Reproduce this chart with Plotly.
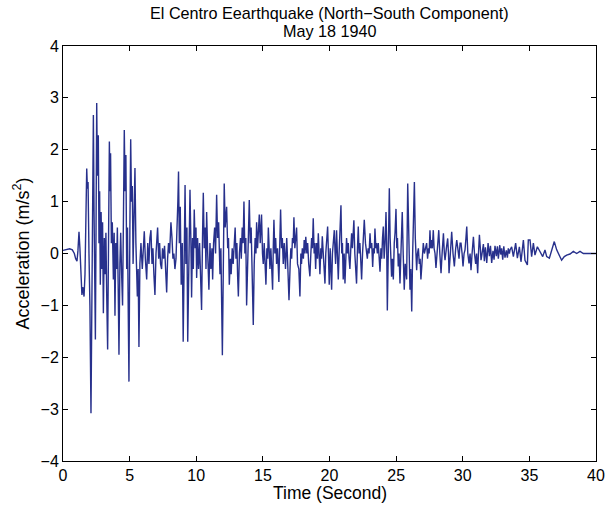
import plotly.graph_objects as go

# Hand-read samples of the El Centro N-S accelerogram (time in s, acceleration in m/s^2)
time_s = [
    0.0, 0.25, 0.5, 0.7, 0.85, 0.95, 1.05, 1.12, 1.2, 1.27, 1.35, 1.42, 1.5, 1.58, 1.65, 1.72, 1.78, 1.83, 1.88, 1.95,
    2.02, 2.1, 2.17, 2.22, 2.28, 2.33, 2.38, 2.43, 2.48, 2.53, 2.58, 2.65, 2.7, 2.75, 2.8, 2.86, 2.92, 2.97, 3.03, 3.1,
    3.17, 3.22, 3.28, 3.35, 3.42, 3.48, 3.53, 3.57, 3.63, 3.7, 3.78, 3.84, 3.9, 3.96, 4.02, 4.08, 4.14, 4.2, 4.27, 4.33,
    4.4, 4.47, 4.54, 4.6, 4.66, 4.72, 4.78, 4.84, 4.9, 4.95, 5.02, 5.08, 5.14, 5.2, 5.26, 5.33, 5.4, 5.47, 5.53, 5.58,
    5.64, 5.7, 5.77, 5.85, 5.95, 6.02, 6.1, 6.18, 6.28, 6.36, 6.45, 6.52, 6.6, 6.68, 6.75, 6.82, 6.9, 6.98, 7.05, 7.1,
    7.18, 7.25, 7.32, 7.4, 7.47, 7.55, 7.62, 7.7, 7.78, 7.85, 7.92, 8.0, 8.1, 8.18, 8.25, 8.32, 8.4, 8.48, 8.55, 8.62,
    8.67, 8.73, 8.8, 8.87, 8.95, 9.02, 9.1, 9.16, 9.22, 9.3, 9.36, 9.44, 9.53, 9.6, 9.65, 9.72, 9.78, 9.85, 9.92, 9.98,
    10.03, 10.1, 10.17, 10.25, 10.33, 10.4, 10.47, 10.53, 10.6, 10.67, 10.73, 10.78, 10.86, 10.95, 11.03, 11.1, 11.18, 11.23, 11.3, 11.38,
    11.45, 11.53, 11.6, 11.68, 11.78, 11.85, 11.96, 12.03, 12.1, 12.17, 12.28, 12.36, 12.42, 12.48, 12.56, 12.62, 12.7, 12.77, 12.85, 12.92,
    12.98, 13.05, 13.1, 13.16, 13.24, 13.32, 13.38, 13.45, 13.52, 13.58, 13.65, 13.72, 13.78, 13.85, 13.92, 13.98, 14.05, 14.12, 14.18, 14.28,
    14.35, 14.42, 14.48, 14.53, 14.6, 14.67, 14.73, 14.8, 14.85, 14.9, 14.97, 15.03, 15.1, 15.17, 15.23, 15.3, 15.36, 15.41, 15.47, 15.53,
    15.6, 15.66, 15.73, 15.78, 15.83, 15.9, 15.96, 16.03, 16.1, 16.2, 16.27, 16.33, 16.4, 16.46, 16.53, 16.6, 16.7, 16.79, 16.85, 16.96,
    17.05, 17.1, 17.16, 17.22, 17.28, 17.33, 17.4, 17.47, 17.53, 17.6, 17.7, 17.78, 17.85, 17.9, 17.96, 18.04, 18.1, 18.16, 18.22, 18.3,
    18.36, 18.44, 18.53, 18.6, 18.66, 18.72, 18.78, 18.85, 18.9, 18.96, 19.03, 19.1, 19.16, 19.22, 19.28, 19.35, 19.4, 19.46, 19.53, 19.6,
    19.66, 19.72, 19.78, 19.86, 19.92, 19.98, 20.05, 20.1, 20.16, 20.22, 20.3, 20.36, 20.42, 20.46, 20.53, 20.6, 20.66, 20.72, 20.8, 20.86,
    20.92, 20.97, 21.03, 21.1, 21.16, 21.22, 21.28, 21.35, 21.41, 21.47, 21.53, 21.6, 21.66, 21.72, 21.78, 21.83, 21.9, 21.96, 22.03, 22.1,
    22.16, 22.22, 22.28, 22.34, 22.41, 22.48, 22.55, 22.61, 22.7, 22.77, 22.84, 22.9, 22.97, 23.04, 23.1, 23.17, 23.24, 23.3, 23.36, 23.41,
    23.48, 23.53, 23.59, 23.66, 23.72, 23.79, 23.86, 23.92, 23.98, 24.04, 24.1, 24.17, 24.24, 24.29, 24.34, 24.41, 24.49, 24.55, 24.6, 24.66,
    24.72, 24.79, 24.86, 24.92, 24.99, 25.05, 25.1, 25.16, 25.22, 25.29, 25.36, 25.46, 25.53, 25.61, 25.68, 25.74, 25.79, 25.87, 25.94, 26.0,
    26.04, 26.1, 26.17, 26.24, 26.29, 26.37, 26.44, 26.5, 26.54, 26.6, 26.67, 26.74, 26.8, 26.86, 26.93, 27.0, 27.04, 27.12, 27.2, 27.29,
    27.36, 27.43, 27.48, 27.54, 27.6, 27.66, 27.72, 27.79, 27.85, 27.92, 27.99, 28.08, 28.2, 28.28, 28.37, 28.45, 28.55, 28.62, 28.67, 28.77,
    28.87, 28.93, 28.97, 29.07, 29.17, 29.27, 29.37, 29.47, 29.55, 29.63, 29.72, 29.8, 29.87, 29.95, 30.02, 30.1, 30.17, 30.24, 30.3, 30.38,
    30.47, 30.55, 30.62, 30.7, 30.8, 30.88, 30.97, 31.04, 31.12, 31.18, 31.25, 31.32, 31.37, 31.45, 31.55, 31.62, 31.7, 31.8, 31.9, 32.0,
    32.08, 32.17, 32.27, 32.35, 32.42, 32.52, 32.6, 32.67, 32.78, 32.85, 32.92, 33.0, 33.08, 33.17, 33.27, 33.35, 33.42, 33.5, 33.55, 33.67,
    33.8, 33.97, 34.1, 34.25, 34.37, 34.55, 34.67, 34.85, 34.92, 35.05, 35.17, 35.3, 35.42, 35.6, 35.8, 36.0, 36.17, 36.3, 36.5, 36.67,
    36.87, 37.05, 37.17, 37.3, 37.42, 37.62, 37.8, 38.05, 38.3, 38.55, 38.8, 39.05, 39.5, 40.0,
]

accel = [
    0.06, 0.08, 0.09, 0.07, 0.0, -0.1, -0.15, 0.05, 0.42, 0.1, -0.6, -0.8, -0.65, -0.83, -0.4, 1.3, 1.64, 1.25, 1.38, 0.0,
    -1.0, -3.08, -0.5, 1.0, 2.67, 0.8, -0.6, -1.66, 0.5, 2.9, 1.5, 2.28, 0.2, 1.2, -0.6, 0.8, -0.3, 0.6, -1.15, 0.3,
    -0.4, 0.4, -0.8, -1.85, 0.3, 2.16, 1.2, 1.93, 0.2, 0.6, -0.5, 0.4, -1.2, 0.2, -0.3, 0.5, -0.6, -1.95, -0.2, 0.4,
    -0.4, -1.0, 0.8, 2.38, 1.2, 1.9, -0.3, 0.5, -1.2, -2.47, 0.5, 2.2, 1.0, 1.3, -0.2, 0.58, 1.65, 0.2, -0.5, -0.83,
    -0.3, -1.8, -0.2, 0.2, -0.3, 0.1, 0.43, -0.1, -0.5, 0.2, -0.2, 0.3, 0.45, -0.2, 0.1, -0.4, -0.8, 0.0, 0.3, 0.5,
    -0.1, 0.2, -0.2, -0.3, 0.1, -0.1, 0.15, -0.4, -0.75, -0.1, 0.2, 0.0, 0.6, 0.3, -0.1, 0.0, -0.3, -0.1, 0.3, 1.0,
    1.58, 0.2, 0.9, -0.6, 0.2, -1.7, 0.0, 1.32, -0.2, 0.5, -1.7, 0.2, 1.23, 0.2, -0.85, 0.3, -0.3, 0.85, 0.1, 0.5,
    -0.47, 0.3, -0.3, 0.2, -0.5, -1.09, 0.3, 1.17, 0.1, 0.5, -0.3, 0.8, 0.0, -0.7, 0.2, -0.3, 0.1, -0.5, 0.2, 0.5,
    0.0, 1.13, 0.3, 0.6, -0.4, 0.1, -1.96, 0.0, 1.35, 0.5, 0.9, 0.1, 0.3, -0.6, -0.1, -0.4, 0.1, -0.2, 0.3, 0.5,
    -0.1, 0.2, -0.4, -0.83, 0.0, 0.3, -0.1, 0.5, 0.2, 1.0, 0.0, 0.3, -1.0, 0.0, 0.4, 1.03, 0.2, 0.5, -0.2, -1.38,
    -0.2, 0.3, 0.0, 0.6, 0.1, 0.4, 0.75, 0.2, 0.5, 0.75, 0.0, -0.2, 0.2, -0.3, -0.6, 0.1, -0.1, 0.5, 0.0, -0.3,
    0.1, -0.2, -0.7, 0.1, 0.65, 0.0, 0.3, -0.2, 0.1, -0.55, 0.2, 0.85, 0.1, 0.3, -0.2, 0.2, -0.3, 0.3, -0.1, -0.9,
    -0.2, 0.1, -0.1, 0.3, 0.2, 0.7, 0.1, 0.4, 0.5, -0.2, -0.3, -0.83, 0.0, -0.2, 0.1, -0.1, 0.26, 0.0, 0.32, 0.0,
    0.2, -0.2, -0.44, 0.0, 0.3, 0.1, 0.68, 0.0, 0.2, -0.3, 0.2, -0.1, 0.39, 0.0, -0.4, 0.1, -0.1, 0.33, 0.0, -0.3,
    -0.58, 0.0, 0.2, 0.52, 0.0, -0.6, 0.1, -0.3, -0.7, 0.0, 0.2, 0.45, 0.0, -0.2, 0.45, 0.0, -0.5, 0.0, 0.4, 0.93,
    0.0, 0.2, -0.5, 0.0, -0.58, 0.0, 0.3, 0.0, 0.2, -0.1, -0.3, 0.1, 0.39, 0.1, 0.3, 0.64, 0.0, -0.2, -0.58, 0.1,
    0.52, 0.0, 0.2, -0.1, -0.5, 0.0, 0.3, 0.65, 0.2, 0.0, -0.1, 0.1, 0.0, 0.39, 0.1, 0.2, -0.26, 0.1, 0.0, 0.48,
    0.1, 0.2, 0.0, 0.2, -0.1, -0.35, 0.1, -0.1, 0.3, 0.52, -0.1, 0.2, 0.8, 0.2, -1.1, 0.0, 1.26, 0.3, 0.0, -0.45,
    -0.1, -0.5, 0.2, 0.4, 0.86, 0.1, 0.3, -0.25, 0.0, -0.58, 0.0, 0.8, 0.0, -0.7, -0.2, -0.4, -0.5, 1.35, 0.2, -0.3,
    -0.7, -0.3, -1.12, 0.0, 0.52, 1.38, 0.3, -0.1, -0.32, 0.0, 0.1, -0.2, -0.1, -0.5, -0.2, 0.0, 0.2, 0.0, 0.1, 0.2,
    -0.1, 0.1, 0.0, 0.45, 0.1, 0.26, 0.1, 0.45, 0.1, 0.0, -0.28, 0.1, 0.45, 0.0, -0.38, 0.0, 0.39, 0.0, -0.13, 0.1,
    0.29, 0.0, -0.38, 0.0, 0.42, 0.0, -0.25, 0.1, 0.26, 0.1, -0.1, 0.2, 0.2, 0.0, -0.25, 0.0, 0.07, 0.3, 0.52, 0.0,
    -0.19, 0.0, -0.32, 0.0, 0.32, 0.0, -0.2, 0.0, -0.38, 0.0, 0.36, 0.1, -0.13, 0.0, 0.18, -0.15, 0.12, -0.18, 0.2, -0.05,
    0.15, -0.18, 0.05, -0.12, 0.15, -0.05, 0.14, -0.1, 0.16, -0.02, 0.1, -0.12, 0.14, -0.08, 0.06, -0.08, 0.1, 0.0, 0.07, 0.13,
    -0.06, 0.2, -0.09, 0.13, -0.16, 0.26, -0.13, -0.22, 0.26, 0.26, -0.06, 0.2, -0.03, 0.13, 0.04, -0.06, 0.07, -0.06, -0.09, 0.07,
    0.23, 0.07, 0.0, -0.06, -0.13, -0.06, -0.03, -0.01, 0.04, 0.0, 0.04, 0.0, 0.0, 0.0,
]

x_ticks = [0, 5, 10, 15, 20, 25, 30, 35, 40]
y_ticks = [-4, -3, -2, -1, 0, 1, 2, 3, 4]
title_lines = ["El Centro Eearthquake (North\u2212South Component)", "May 18 1940"]
x_label = "Time (Second)"
y_label = "Acceleration (m/s<sup>2</sup>)"

font_family = "Liberation Sans, Arial, sans-serif"

fig = go.Figure()
fig.add_trace(go.Scatter(
    x=time_s, y=accel, mode="lines",
    line=dict(color="#27308c", width=1.4),
    showlegend=False, hoverinfo="skip",
))

axis_common = dict(
    showline=True, linecolor="black", linewidth=1, mirror="ticks",
    ticks="inside", ticklen=5, tickcolor="black", tickwidth=1,
    showgrid=False, zeroline=False, automargin=False,
    tickfont=dict(family=font_family, size=16, color="black"),
)

def tfont(size):
    return dict(family=font_family, size=size, color="black")

fig.update_layout(
    width=606, height=508, autosize=False,
    margin=dict(l=63, r=10, t=46, b=47, pad=0),
    paper_bgcolor="white", plot_bgcolor="white",
    font=tfont(16),
    xaxis=dict(range=[0, 40], tickvals=x_ticks, ticktext=[str(v) for v in x_ticks], **axis_common),
    yaxis=dict(range=[-4, 4], tickvals=y_ticks, **axis_common),
    annotations=[
        dict(text=title_lines[0], xref="paper", yref="paper", x=0.5, y=(461 - 12.5) / 415,
             xanchor="center", yanchor="middle", showarrow=False, font=tfont(16.2)),
        dict(text=title_lines[1], xref="paper", yref="paper", x=0.5, y=(461 - 31) / 415,
             xanchor="center", yanchor="middle", showarrow=False, font=tfont(16.2)),
        dict(text=x_label, xref="paper", yref="paper", x=0.5, y=(461 - 493) / 415,
             xanchor="center", yanchor="middle", showarrow=False, font=tfont(17.5)),
        dict(text=y_label, xref="paper", yref="paper", x=(22 - 63) / 533, y=0.5,
             xanchor="center", yanchor="middle", textangle=-90, showarrow=False, font=tfont(18)),
    ],
)

fig.write_html("out.html")
